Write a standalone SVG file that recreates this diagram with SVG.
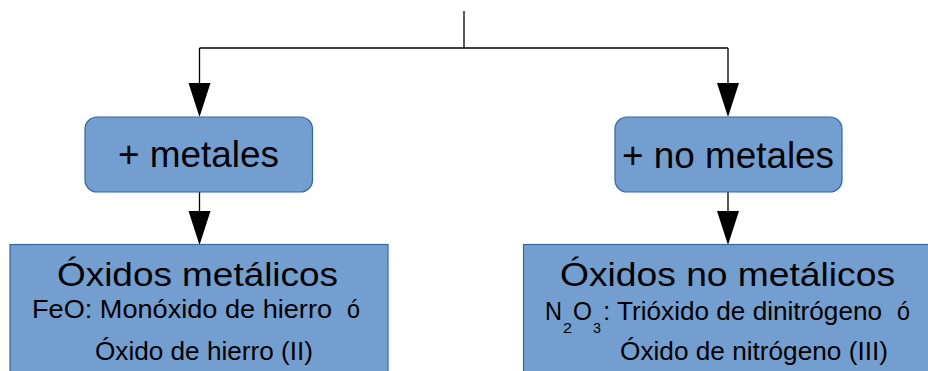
<svg xmlns="http://www.w3.org/2000/svg" width="928" height="371" viewBox="0 0 928 371">
<style>
.box{fill:#729fcf;stroke:#3465a4;stroke-width:1.2}
.ln{stroke:#000;stroke-width:1.3;fill:none}
.ah{fill:#000}
text{font-family:"Liberation Sans",Arial,sans-serif;fill:#000}
.big{font-size:36px}
.title{font-size:34px}
.body{font-size:25px}
.sub{font-size:15px}
</style>
<defs>
<path id="arrow" d="M-11,0 L11,0 L0,34 Z"/>
</defs>
<g id="connectors">
<path class="ln" d="M464,11 V48 M199.5,48 H728 M199.5,48 V90 M728,48 V90 M199.5,192 V215 M728,192 V215"/>
<use href="#arrow" class="ah" x="199.5" y="83"/>
<use href="#arrow" class="ah" x="728" y="83"/>
<use href="#arrow" class="ah" x="199.5" y="211"/>
<use href="#arrow" class="ah" x="728" y="211"/>
</g>
<g id="node-metales">
<rect class="box" x="85" y="117" width="227.5" height="75" rx="12"/>
<text class="big" x="118" y="167" textLength="161" lengthAdjust="spacingAndGlyphs">+ metales</text>
</g>
<g id="node-nometales">
<rect class="box" x="615" y="117" width="227" height="75" rx="12"/>
<text class="big" x="622" y="167.5" textLength="212" lengthAdjust="spacingAndGlyphs">+ no metales</text>
</g>
<g id="node-oxidos-metalicos">
<rect class="box" x="10" y="244.5" width="378" height="140"/>
<text class="title" x="57" y="286" textLength="281" lengthAdjust="spacingAndGlyphs">Óxidos metálicos</text>
<text class="body" x="32" y="317.5" textLength="300" lengthAdjust="spacingAndGlyphs">FeO: Monóxido de hierro</text>
<text class="body" x="347" y="317.5" textLength="13" lengthAdjust="spacingAndGlyphs">ó</text>
<text class="body" x="95" y="360" textLength="218" lengthAdjust="spacingAndGlyphs">Óxido de hierro (II)</text>
</g>
<g id="node-oxidos-no-metalicos">
<rect class="box" x="523.5" y="244.5" width="410" height="140"/>
<text class="title" x="560" y="286" textLength="335" lengthAdjust="spacingAndGlyphs">Óxidos no metálicos</text>
<text class="body" x="545" y="320" textLength="17" lengthAdjust="spacingAndGlyphs">N</text>
<text class="sub" x="563" y="332.5" textLength="9" lengthAdjust="spacingAndGlyphs">2</text>
<text class="body" x="573" y="320" textLength="19" lengthAdjust="spacingAndGlyphs">O</text>
<text class="sub" x="593" y="332.5" textLength="8" lengthAdjust="spacingAndGlyphs">3</text>
<text class="body" x="603" y="320" textLength="279" lengthAdjust="spacingAndGlyphs">: Trióxido de dinitrógeno</text>
<text class="body" x="897" y="320" textLength="13" lengthAdjust="spacingAndGlyphs">ó</text>
<text class="body" x="620" y="360" textLength="268" lengthAdjust="spacingAndGlyphs">Óxido de nitrógeno (III)</text>
</g>
</svg>
